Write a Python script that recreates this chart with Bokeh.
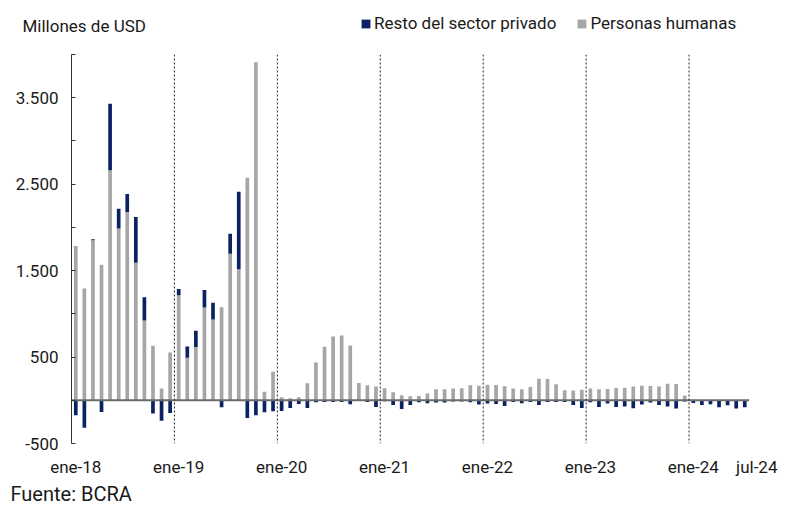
import numpy as np
from bokeh.plotting import figure
from bokeh.layouts import column
from bokeh.models import FixedTicker, Span, Legend, LegendItem, Label, ColumnDataSource
from bokeh.embed import file_html
from bokeh.resources import INLINE

# ---- data (millones de USD), monthly ene-18 .. jul-24 ----
gray_2018 = [1785, 1292, 1850, 1569, 2661, 1988, 2177, 1592, 923, 631, 135, 554]
navy_2018 = [-173, -319, 12, -135, 770, 227, 208, 527, 269, -154, -238, -146]
gray_2019 = [1215, 492, 615, 1073, 935, 1077, 1696, 1515, 2573, 3911, 100, 331]
navy_2019 = [73, 131, 189, 204, 192, -81, 231, 896, -204, -173, -138, -127]
gray_2020 = [35, 23, 35, 196, 438, 619, 738, 750, 635, 200, 173, 158]
navy_2020 = [-123, -88, -42, -88, -23, -19, -19, -19, -46, -5, -19, -77]
gray_2021 = [138, 92, 58, 46, 50, 77, 127, 127, 135, 138, 173, 169]
navy_2021 = [-10, -54, -100, -54, -23, -35, -27, -27, -15, -15, -23, -50]
gray_2022 = [181, 177, 162, 135, 127, 154, 250, 246, 185, 115, 112, 123]
navy_2022 = [-38, -42, -65, -19, -35, -19, -54, -19, -19, -19, -54, -88]
gray_2023 = [135, 127, 131, 142, 146, 158, 169, 165, 158, 192, 188, 54]
navy_2023 = [-23, -77, -38, -77, -73, -92, -50, -27, -54, -73, -96, -15]
gray_2024 = [0, 0, 0, 0, 0, 0, 0]
navy_2024 = [-31, -54, -46, -81, -58, -96, -81]

series_names = ["Resto del sector privado", "Personas humanas"]
month_abbr = ["ene", "feb", "mar", "abr", "may", "jun", "jul", "ago", "sep", "oct", "nov", "dic"]
years = [18, 19, 20, 21, 22, 23, 24]
tick_months = ["ene-18", "ene-19", "ene-20", "ene-21", "ene-22", "ene-23", "ene-24", "jul-24"]
y_ticks = [-500, 0, 500, 1000, 1500, 2000, 2500, 3000, 3500, 4000]
y_tick_labels = {-500: "-500", 500: "500", 1500: "1.500", 2500: "2.500", 3500: "3.500"}

gray = np.array(gray_2018 + gray_2019 + gray_2020 + gray_2021 + gray_2022 + gray_2023 + gray_2024, dtype=float)
navy = np.array(navy_2018 + navy_2019 + navy_2020 + navy_2021 + navy_2022 + navy_2023 + navy_2024, dtype=float)
months = [f"{m}-{y}" for y in years for m in month_abbr][: len(gray)]
n = len(gray)
x = np.arange(n)

navy_bottom = np.where(navy > 0, gray, 0)
navy_top = np.where(navy > 0, gray + navy, navy)

NAVY = "#0b2262"
GRAY = "#a6a6a6"
FONT = "Roboto"
TXT = "#1a1a1a"
W = 779


def no_align(fig):
    try:
        fig.frame_align = False
    except Exception:
        pass


# ---------------- header: unit + legend ----------------
ph = figure(width=W, height=40, x_range=(0, W), y_range=(0, 40), output_backend="svg",
            toolbar_location=None, title=None, x_axis_location=None, y_axis_location=None,
            min_border=0)
no_align(ph)
ph.grid.visible = False
ph.outline_line_color = None
hn = ph.vbar(x=[-1000], top=[0], width=1, fill_color=NAVY, line_color=None)
hg = ph.vbar(x=[-1000], top=[0], width=1, fill_color=GRAY, line_color=None)
ph.add_layout(Label(x=22, y=15, text="Millones de USD", text_font=FONT, text_font_size="17px",
                    text_baseline="middle", text_color=TXT))
legend = Legend(items=[LegendItem(label=series_names[0], renderers=[hn]),
                       LegendItem(label=series_names[1], renderers=[hg])],
                location=(360, 7), orientation="horizontal", border_line_color=None,
                background_fill_alpha=0, padding=0, margin=0, spacing=20, label_standoff=3,
                glyph_width=11, glyph_height=11, label_text_font=FONT,
                label_text_font_size="17px", label_text_color=TXT)
ph.add_layout(legend, "center")

# ---------------- main chart ----------------
p = figure(width=W, height=439, x_range=(-0.5, 81), y_range=(-500, 4000),
           output_backend="svg", toolbar_location=None, title=None,
           min_border_left=71, min_border_right=9, min_border_top=14, min_border_bottom=36)
p.grid.visible = False
p.outline_line_color = None

src = ColumnDataSource(dict(x=x, gray=gray, nb=navy_bottom, nt=navy_top, month=months))
gr = p.vbar(x="x", top="gray", bottom=0, width=0.43, source=src, fill_color=GRAY, line_color=None)
nr = p.vbar(x="x", top="nt", bottom="nb", width=0.43, source=src, fill_color=NAVY, line_color=None)

# zero line
p.segment(x0=[-0.5], x1=[n - 0.5], y0=[0], y1=[0], line_color="#6b6b6b", line_width=2)

# dotted year separators
for i, m in enumerate(months):
    if m.startswith("ene") and i > 0:
        p.add_layout(Span(location=i - 0.5, dimension="height", line_color="#222222",
                          line_dash="2 2", line_width=1))

ya = p.yaxis[0]
ya.ticker = FixedTicker(ticks=y_ticks)
ya.major_label_overrides = {t: y_tick_labels.get(t, "") for t in y_ticks}
ya.major_tick_in = 4
ya.major_tick_out = 0
ya.minor_tick_line_color = None
ya.axis_line_color = "#333333"
ya.major_tick_line_color = "#333333"
ya.major_label_standoff = 13
ya.major_label_text_font = FONT
ya.major_label_text_font_size = "17px"
ya.major_label_text_color = TXT

xpos = []
for lab in tick_months:
    idx = months.index(lab)
    xpos.append(idx + (1.4 if lab == "jul-24" else 0.0))
xa = p.xaxis[0]
xa.ticker = FixedTicker(ticks=xpos)
xa.major_label_overrides = {pos: lab for pos, lab in zip(xpos, tick_months)}
xa.axis_line_color = None
xa.major_tick_line_color = None
xa.major_tick_in = 0
xa.major_tick_out = 0
xa.minor_tick_line_color = None
xa.major_label_standoff = 13
xa.major_label_text_font = FONT
xa.major_label_text_font_size = "17px"
xa.major_label_text_color = TXT

# ---------------- footer: source ----------------
pf = figure(width=W, height=26, x_range=(0, W), y_range=(0, 26), output_backend="svg",
            toolbar_location=None, title=None, x_axis_location=None, y_axis_location=None,
            min_border=0)
no_align(pf)
pf.grid.visible = False
pf.outline_line_color = None
pf.add_layout(Label(x=10, y=12, text="Fuente: BCRA", text_font=FONT, text_font_size="20px",
                    text_baseline="middle", text_color=TXT))

layout = column(ph, p, pf, spacing=0)
open("out.html", "w").write(file_html(layout, INLINE))
